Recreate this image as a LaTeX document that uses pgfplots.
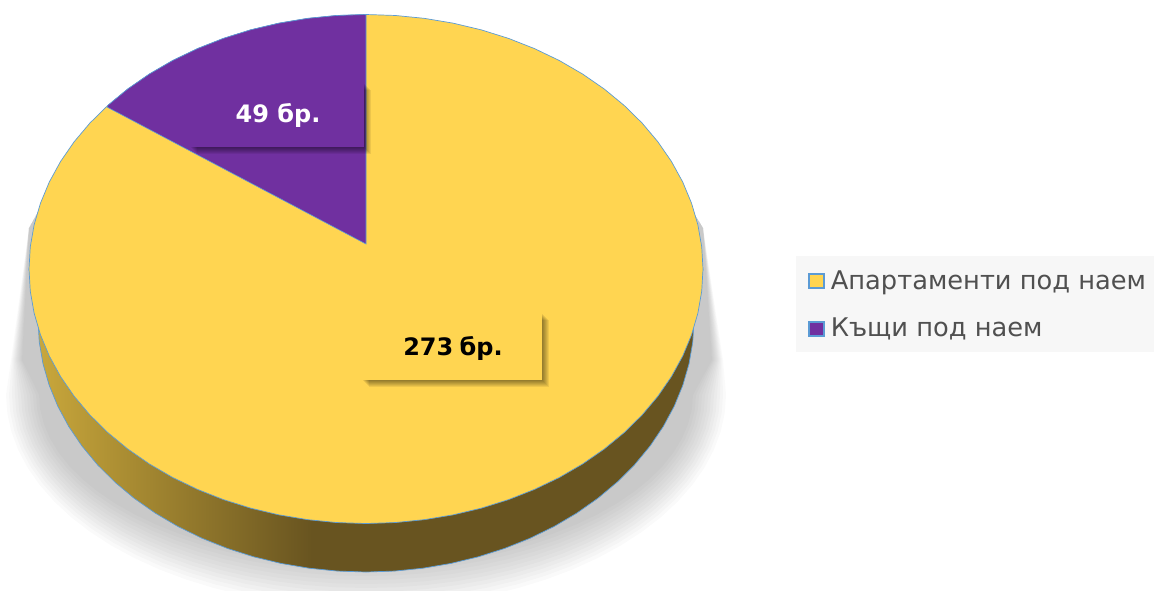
\documentclass[border=0pt]{standalone}
\usepackage{pgfplots}
\usepackage{pgfplotstable}
\pgfplotsset{compat=1.18}
\usepackage{fontspec}
\setmainfont{DejaVu Sans}
\definecolor{yel}{HTML}{FFD551}
\definecolor{pur}{HTML}{7030A0}
\definecolor{edge}{HTML}{5B9BD5}
\definecolor{sideA}{HTML}{CCAA3C}
\definecolor{sideB}{HTML}{685420}
\definecolor{lgbg}{HTML}{F7F7F7}
\definecolor{ink}{HTML}{505050}
\pgfdeclarehorizontalshading{sideshade}{100bp}{color(0bp)=(sideA); color(25bp)=(sideA); color(46bp)=(sideB); color(100bp)=(sideB)}
% lower half of a unit ellipse (screen y grows downward)
\pgfplotstableread{
c s
1 0
.9962 .0872
.9848 .1736
.9659 .2588
.9397 .3420
.9063 .4226
.8660 .5
.8192 .5736
.7660 .6428
.7071 .7071
.6428 .7660
.5736 .8192
.5 .8660
.4226 .9063
.3420 .9397
.2588 .9659
.1736 .9848
.0872 .9962
0 1
-.0872 .9962
-.1736 .9848
-.2588 .9659
-.3420 .9397
-.4226 .9063
-.5 .8660
-.5736 .8192
-.6428 .7660
-.7071 .7071
-.7660 .6428
-.8192 .5736
-.8660 .5
-.9063 .4226
-.9397 .3420
-.9659 .2588
-.9848 .1736
-.9962 .0872
-1 0
}\halfoval
% whole unit ellipse
\pgfplotstableread{
c s
1 0
.9962 .0872
.9848 .1736
.9659 .2588
.9397 .3420
.9063 .4226
.8660 .5
.8192 .5736
.7660 .6428
.7071 .7071
.6428 .7660
.5736 .8192
.5 .8660
.4226 .9063
.3420 .9397
.2588 .9659
.1736 .9848
.0872 .9962
0 1
-.0872 .9962
-.1736 .9848
-.2588 .9659
-.3420 .9397
-.4226 .9063
-.5 .8660
-.5736 .8192
-.6428 .7660
-.7071 .7071
-.7660 .6428
-.8192 .5736
-.8660 .5
-.9063 .4226
-.9397 .3420
-.9659 .2588
-.9848 .1736
-.9962 .0872
-1 0
-.9962 -.0872
-.9848 -.1736
-.9659 -.2588
-.9397 -.3420
-.9063 -.4226
-.8660 -.5
-.8192 -.5736
-.7660 -.6428
-.7071 -.7071
-.6428 -.7660
-.5736 -.8192
-.5 -.8660
-.4226 -.9063
-.3420 -.9397
-.2588 -.9659
-.1736 -.9848
-.0872 -.9962
0 -1
.0872 -.9962
.1736 -.9848
.2588 -.9659
.3420 -.9397
.4226 -.9063
.5 -.8660
.5736 -.8192
.6428 -.7660
.7071 -.7071
.7660 -.6428
.8192 -.5736
.8660 -.5
.9063 -.4226
.9397 -.3420
.9659 -.2588
.9848 -.1736
.9962 -.0872
}\fulloval
% the "Къщи под наем" (49) slice, in picture pixels
\pgfplotstableread{
x y
366 14.5
336.6 15.5
307.5 18.4
278.8 23.2
250.7 29.8
223.6 38.3
197.5 48.6
172.7 60.5
149.4 74
127.7 89
107.8 105.4
107 107
366 244
}\housesslice
% one layer of the soft shadow: rx, ry, left knot, right knot
\newcommand{\shlayer}[4]{\addplot[fill=black,fill opacity=.02,draw=none,forget plot] table[x expr=366+#1*\thisrow{c},y expr=395+#2*\thisrow{s}] {\halfoval} -- (axis cs:#3,360) -- (axis cs:29,228) -- (axis cs:39,210) -- (axis cs:692,210) -- (axis cs:703,228) -- (axis cs:#4,360) -- cycle;}
\newcommand{\boxshadow}[4]{%
  \fill[black,opacity=.07] (axis cs:#1+7,#2+7) rectangle (axis cs:#3+7,#4+7);
  \fill[black,opacity=.07] (axis cs:#1+6,#2+6) rectangle (axis cs:#3+6,#4+6);
  \fill[black,opacity=.07] (axis cs:#1+5,#2+5) rectangle (axis cs:#3+5,#4+5);
  \fill[black,opacity=.07] (axis cs:#1+4,#2+4) rectangle (axis cs:#3+4,#4+4);
  \fill[black,opacity=.07] (axis cs:#1+3,#2+3) rectangle (axis cs:#3+3,#4+3);
  \fill[black,opacity=.07] (axis cs:#1+2,#2+2) rectangle (axis cs:#3+2,#4+2);
  \fill[black,opacity=.07] (axis cs:#1+1,#2+1) rectangle (axis cs:#3+1,#4+1);}
\begin{document}
\begin{tikzpicture}
\begin{axis}[
  scale only axis, width=577pt, height=295pt,
  xmin=0, xmax=1154, ymin=0, ymax=590, y dir=reverse,
  hide axis, clip=true,
  legend style={at={(axis cs:803,262)},anchor=north west,fill=none,draw=none,
    font=\fontsize{12.85}{15}\selectfont,text=ink,
    row sep=9pt,/tikz/every odd column/.append style={column sep=1.5pt}},
  legend cell align=left,
]
% shadow
\shlayer{360}{213}{11}{723}\shlayer{357}{209}{12}{722}\shlayer{354}{205}{13}{721}\shlayer{351}{201}{14}{720}
\shlayer{348}{197}{15}{719}\shlayer{345}{193}{16}{718}\shlayer{342}{189}{17}{717}\shlayer{339}{185}{18}{716}
\shlayer{336}{181}{19}{715}\shlayer{333}{177}{20}{714}\shlayer{330}{173}{21}{713}\shlayer{327}{169}{22}{712}
% side wall
\addplot[shading=sideshade,draw=edge,line width=.35pt,forget plot]
  table[x expr=366+328*\thisrow{c},y expr=320+252*\thisrow{s}] {\halfoval}
  -- (axis cs:29,269) -- (axis cs:703,269) -- cycle;
% pie top
\addplot[fill=yel,draw=edge,line width=.35pt,forget plot]
  table[x expr=366+337*\thisrow{c},y expr=269+254.5*\thisrow{s}] {\fulloval} -- cycle;
\addplot[fill=pur,draw=edge,line width=.3pt,forget plot] table {\housesslice} -- cycle;
% labels
\boxshadow{190}{83}{364}{147}
\fill[pur] (axis cs:190,83) rectangle (axis cs:364,147);
\node[font=\fontsize{12}{14}\selectfont\bfseries,text=white] at (axis cs:278,115.5) {49 бр.};
\boxshadow{362}{313}{542}{380}
\fill[yel] (axis cs:362,313) rectangle (axis cs:542,380);
\node[font=\fontsize{12}{14}\selectfont\bfseries,text=black] at (axis cs:453,348) {273\hspace{-1pt} бр.};
% legend
\fill[lgbg] (axis cs:796,256) rectangle (axis cs:1154,352);
\addlegendimage{only marks,mark=square*,mark size=3.6pt,mark options={fill=yel,draw=edge,line width=1pt}}
\addlegendentry{Апартаменти под наем}
\addlegendimage{only marks,mark=square*,mark size=3.6pt,mark options={fill=pur,draw=edge,line width=1pt}}
\addlegendentry{Къщи под наем}
\end{axis}
\pgfresetboundingbox
\path[use as bounding box] (current axis.south west) rectangle (current axis.north east);
\end{tikzpicture}
\end{document}
